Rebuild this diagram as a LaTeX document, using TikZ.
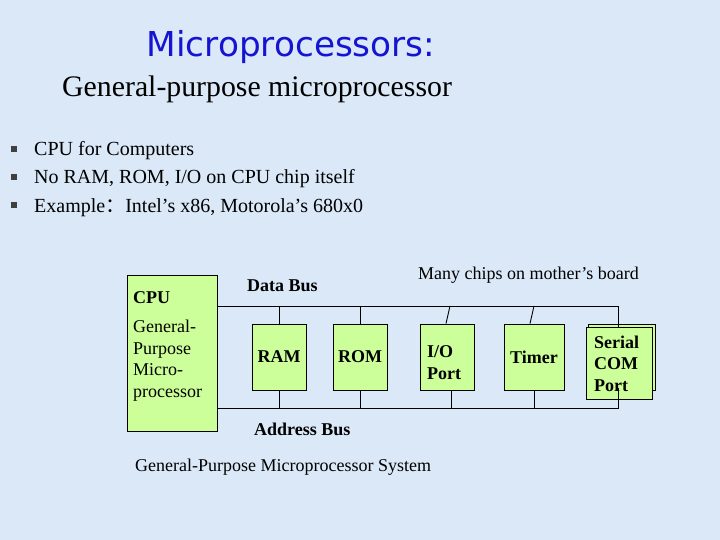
\documentclass[tikz,border=0pt]{standalone}
\usepackage{fontspec}
\setmainfont{Liberation Serif}
\newfontfamily\titlefont{DejaVu Sans}
\newfontfamily\cjk{Noto Sans CJK SC}
\usetikzlibrary{positioning}
\definecolor{slidebg}{RGB}{218,232,248}
\definecolor{chipgreen}{RGB}{204,255,153}
\definecolor{titleblue}{RGB}{20,20,210}
\tikzset{
  chip/.style={draw=black, fill=chipgreen, line width=0.8pt, minimum width=54pt, minimum height=66pt, inner sep=0pt, font=\fontsize{18}{21.5}\selectfont\bfseries},
  txt/.style={anchor=base west, inner sep=0pt},
  bus/.style={line width=0.9pt}
}
\begin{document}
\begin{tikzpicture}[x=1pt, y=-1pt]
  \fill[slidebg] (0,0) rectangle (720,540);
  \useasboundingbox (0,0) rectangle (720,540);
  % heading
  \node[anchor=base, inner sep=0pt, text=titleblue, font=\titlefont\fontsize{34.3}{36}\selectfont] (title) at (291,57) {Microprocessors:};
  \node[txt, font=\fontsize{29.8}{32}\selectfont] (sub) at (62,97) {General-purpose microprocessor};
  % bullets
  \foreach \y/\t [count=\k] in {156/{CPU for Computers}, 184/{No RAM, ROM, I/O on CPU chip itself}, 212/{Example{\cjk ：}Intel’s x86, Motorola’s 680x0}} {
    \fill[black!75] (10.5,\y-9.5) rectangle (16.5,\y-3.5);
    \node[txt, font=\fontsize{20}{22}\selectfont] (item\k) at (34,\y) {\t};
  }
  % processor
  \node[draw=black, fill=chipgreen, line width=0.8pt, minimum width=90pt, minimum height=156pt, inner sep=0pt] (cpu) at (172,353) {};
  \node[txt, font=\fontsize{18}{20}\selectfont\bfseries] (cpulabel) at (133,303) {CPU};
  \node[anchor=north west, inner sep=0pt, align=left, font=\fontsize{18}{21.5}\selectfont] (cpudesc) at (133,320) {General-\\Purpose\\Micro-\\processor};
  % chips on the board
  \node[chip] (ram) at (279,357) {RAM};
  \node[chip] (rom) at (360,357) {ROM};
  \node[chip] (io) at (447.5,357) {};
  \node[txt, align=left, font=\fontsize{18}{22}\selectfont\bfseries] (iotext) at (427,379) {I/O\\Port};
  \node[chip, minimum width=60pt] (timer) at (534,357) {Timer};
  \node[draw=black, fill=chipgreen, line width=0.8pt, minimum width=67pt, minimum height=66pt] (serialback) at (621.5,357) {};
  \node[chip, minimum width=66pt, minimum height=72pt] (serial) at (619,363) {};
  \node[txt, align=left, font=\fontsize{18}{21.5}\selectfont\bfseries] (serialtext) at (594,391) {Serial\\COM\\Port};
  % buses
  \coordinate (dend) at (618,306);
  \coordinate (aend) at (618,408);
  \draw[bus] (cpu.east |- dend) -- (dend) -- (dend |- serial.north);
  \draw[bus] (cpu.east |- aend) -- (aend) -- (618,388);
  \draw[bus] (ram.north) -- (ram.north |- dend);
  \draw[bus] (ram.south) -- (ram.south |- aend);
  \draw[bus] (rom.north) -- (rom.north |- dend);
  \draw[bus] (rom.south) -- (rom.south |- aend);
  \draw[bus] ([xshift=-1.5pt]io.north) -- ([xshift=2.5pt]io.north |- dend);
  \draw[bus] ([xshift=3.5pt]io.south) -- ([xshift=3.5pt]io.south |- aend);
  \draw[bus] ([xshift=-4pt]timer.north) -- (timer.north |- dend);
  \draw[bus] (timer.south) -- (timer.south |- aend);
  % labels
  \node[txt, font=\fontsize{18}{20}\selectfont\bfseries] (dbus) at (247,291) {Data Bus};
  \node[txt, font=\fontsize{18}{20}\selectfont] (board) at (418,279) {Many chips on mother’s board};
  \node[txt, font=\fontsize{18}{20}\selectfont\bfseries] (abus) at (254,435) {Address Bus};
  \node[txt, font=\fontsize{18}{20}\selectfont] (system) at (135,471) {General-Purpose Microprocessor System};
\end{tikzpicture}
\end{document}
